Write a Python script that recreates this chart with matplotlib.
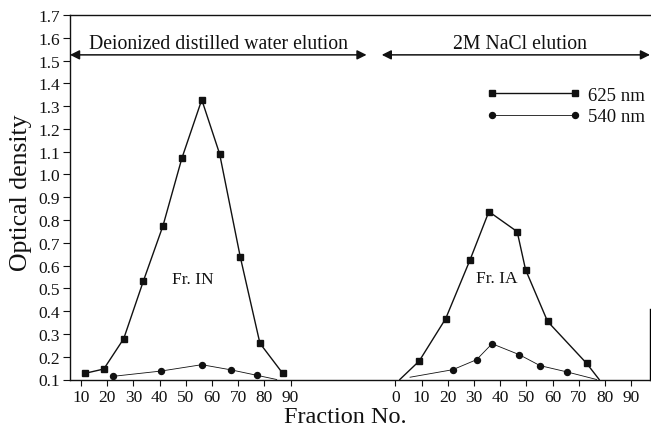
import matplotlib
matplotlib.use("Agg")
import matplotlib.pyplot as plt
from matplotlib.lines import Line2D

plt.rcParams['font.family'] = ['Liberation Serif', 'DejaVu Serif']

# ---- data ----
offset_right = 130  # second elution segment is drawn after the first on the same axis

left_x_625 = [11.5, 18.7, 26.3, 33.8, 41.3, 48.5, 56.1, 62.9, 70.8, 78.3, 87.0]
left_y_625 = [0.127, 0.146, 0.279, 0.532, 0.775, 1.071, 1.328, 1.091, 0.638, 0.259, 0.127]

left_x_540 = [22.3, 40.5, 56.1, 67.4, 77.3, 84.7]
left_y_540 = [0.114, 0.137, 0.165, 0.142, 0.118, 0.100]

right_x_625 = [1.7, 9.1, 19.2, 28.5, 35.7, 46.5, 49.7, 58.1, 73.0, 77.8]
right_y_625 = [0.100, 0.181, 0.367, 0.625, 0.837, 0.749, 0.582, 0.355, 0.171, 0.100]

right_x_540 = [5.6, 21.9, 31.0, 36.9, 47.3, 55.2, 65.6, 76.8]
right_y_540 = [0.110, 0.143, 0.187, 0.257, 0.209, 0.161, 0.133, 0.100]

left_ticks = [10, 20, 30, 40, 50, 60, 70, 80, 90]
right_ticks = [0, 10, 20, 30, 40, 50, 60, 70, 80, 90]
y_ticks = [0.1, 0.2, 0.3, 0.4, 0.5, 0.6, 0.7, 0.8, 0.9, 1.0,
           1.1, 1.2, 1.3, 1.4, 1.5, 1.6, 1.7]

series_labels = ['625 nm', '540 nm']
segment_labels = ['Deionized distilled water elution', '2M NaCl elution']
peak_labels = ['Fr. IN', 'Fr. IA']

# ---- figure ----
fig = plt.figure(figsize=(6.51, 4.31), dpi=100)
W, H = 651, 431
ax = fig.add_axes([70 / W, 1 - 380.5 / H, 580 / W, 364.5 / H])

ink = '#111111'
sq = dict(marker='s', markersize=5, color=ink, linewidth=1.0)
ci = dict(marker='o', markersize=4.3, color=ink, linewidth=0.6)

ax.plot(left_x_625, left_y_625, **sq)
ax.plot(left_x_540, left_y_540, markevery=list(range(len(left_x_540) - 1)), **ci)
rx625 = [x + offset_right for x in right_x_625]
rx540 = [x + offset_right for x in right_x_540]
ax.plot(rx625, right_y_625, markevery=list(range(1, len(rx625) - 1)), **sq)
ax.plot(rx540, right_y_540, markevery=list(range(1, len(rx540) - 1)), **ci)

ax.set_xlim(5.8, 227.2)
ax.set_ylim(0.1, 1.7)

xt = left_ticks + [t + offset_right for t in right_ticks]
xl = [str(t) for t in left_ticks] + [str(t) for t in right_ticks]
ax.set_xticks(xt)
ax.set_xticklabels(xl, fontsize=12.5)
ax.set_yticks(y_ticks)
ax.set_yticklabels([f'{v:.1f}' for v in y_ticks], fontsize=12.5)
ax.tick_params(axis='x', direction='out', length=4, width=0.8, pad=3, colors=ink)
ax.tick_params(axis='y', direction='out', length=5, width=0.8, pad=2, colors=ink)

for s in ['left', 'bottom', 'top']:
    ax.spines[s].set_linewidth(1.0)
    ax.spines[s].set_color(ink)
ax.spines['right'].set_bounds(0.1, 0.41)
ax.spines['right'].set_linewidth(1.0)

ax.set_xlabel('Fraction No.', fontsize=17.5, color=ink)
ax.xaxis.set_label_coords(0.475, -0.072)
ax.set_ylabel('Optical density', fontsize=18.5, color=ink)
ax.yaxis.set_label_coords(-0.066, 0.515)

# elution segment arrows
arrow_y = 1.525
arrow_kw = dict(arrowstyle='<|-|>', color=ink, lw=1.1, mutation_scale=14,
                shrinkA=0, shrinkB=0)
ax.annotate('', xy=(5.8, arrow_y), xytext=(119, arrow_y), arrowprops=arrow_kw)
ax.annotate('', xy=(124.8, arrow_y), xytext=(227.2, arrow_y), arrowprops=arrow_kw)
ax.text(62.4, 1.535, segment_labels[0], ha='center', va='bottom', fontsize=14.2, color=ink)
ax.text(177.6, 1.535, segment_labels[1], ha='center', va='bottom', fontsize=14.2, color=ink)

ax.text(52.7, 0.541, peak_labels[0], ha='center', va='center', fontsize=12.5, color=ink)
ax.text(168.7, 0.544, peak_labels[1], ha='center', va='center', fontsize=12.5, color=ink)

handles = [Line2D([], [], **sq), Line2D([], [], **ci)]
ax.legend(handles, series_labels, loc='upper left', bbox_to_anchor=(0.718, 0.804),
          frameon=False, numpoints=2, handlelength=5.0, handletextpad=0.4,
          fontsize=13.5, borderpad=0, borderaxespad=0, labelspacing=0.25,
          labelcolor=ink)

fig.savefig('out.png', dpi=100)
